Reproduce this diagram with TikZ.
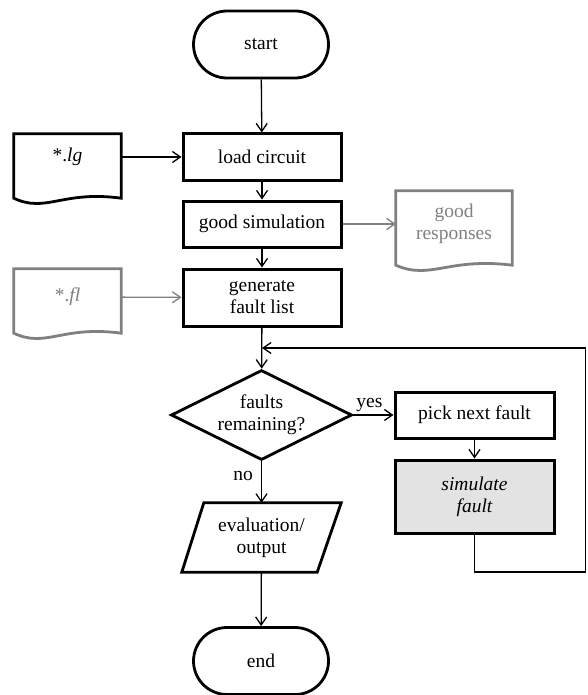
\documentclass[tikz,border=0pt]{standalone}
\usepackage{fontspec}
\setmainfont{Liberation Serif}
\usetikzlibrary{shapes.geometric,shapes.misc,arrows.meta,calc}

\definecolor{docgray}{RGB}{128,128,128}
\definecolor{simfill}{RGB}{227,227,227}

\tikzset{
  base/.style={font=\fontsize{19.5}{22}\selectfont, align=center, inner sep=0pt},
  terminal/.style={base, rounded rectangle, draw, line width=2.8pt,
    minimum width=135pt, minimum height=67pt},
  process/.style={base, rectangle, draw, line width=3pt,
    minimum width=158pt, minimum height=46pt},
  decision/.style={base, diamond, draw, line width=2.8pt, aspect=2,
    minimum width=181pt, minimum height=90pt},
  iotext/.style={base, rectangle, minimum width=159pt, minimum height=69pt},
  ioline/.style={line width=2.8pt, line join=miter},
  doctext/.style={base, minimum width=107pt},
  docline/.style={line width=2.8pt, line join=miter},
  flow/.style={line width=1.3pt, -{Straight Barb[length=8pt,width=11pt,line width=1.3pt]}},
  grayflow/.style={flow, docgray},
  lbl/.style={font=\fontsize{19.5}{22}\selectfont, inner sep=0pt},
}

\newcommand{\docoutline}[4]{% node, extra depth below node, colour, wave depth
  \draw[docline, #3] (#1.north west) -- (#1.north east)
    -- ([yshift=-#2]#1.south east)
    .. controls ($([yshift=-#2]#1.south east)!0.55!([yshift=-#2]#1.south west)+(0,#4)$)
       and ($([yshift=-#2]#1.south east)!0.7!([yshift=-#2]#1.south west)+(0,-1.9*#4)$)
    .. ([yshift=-#2]#1.south west) -- cycle;}

\begin{document}
\begin{tikzpicture}[x=1pt, y=-1pt]
  \useasboundingbox (0,0) rectangle (587,695);

  % main column
  \node[terminal] (start) at (261,44.5) {start};
  \node[process]  (load)  at (262,157)  {load circuit};
  \node[process]  (good)  at (262,224)  {good simulation};
  \node[process, minimum height=57pt] (gen) at (262,297.5) {generate\\fault list};
  \node[decision] (dec)   at (261.5,415) {faults\\remaining?};
  \node[iotext]   (eval)  at (261.5,537.5) {evaluation/\\output};
  \draw[ioline] ([xshift=22pt]eval.north west) -- (eval.north east)
    -- ([xshift=-24pt]eval.south east) -- (eval.south west) -- cycle;
  \node[terminal] (end)   at (261,661)  {end};

  % fault loop column
  \node[process, minimum width=159pt] (pick) at (474.5,415) {pick next fault};
  \node[process, minimum width=159pt, minimum height=73pt, fill=simfill]
        (sim) at (474.5,496.5) {\itshape simulate\\\itshape fault};

  % files
  \node[doctext, minimum height=46pt] (lg) at (67.5,157) {*.\textit{lg}};
  \docoutline{lg}{18pt}{black}{8pt}
  \node[doctext, minimum height=56pt, text=docgray] (fl) at (67.5,297) {*.\textit{fl}};
  \docoutline{fl}{8pt}{docgray}{8pt}
  \node[doctext, minimum width=116pt, minimum height=66pt, text=docgray]
        (resp) at (454,224) {good\\responses};
  \docoutline{resp}{8pt}{docgray}{8pt}

  % loop return path
  \coordinate (loopin)  at (262,348);
  \coordinate (loopcor) at (585.5,348);
  \coordinate (loopbot) at (585.5,572);

  % connectors
  \draw[flow] (start) -- (load);
  \draw[flow] (lg) -- (load);
  \draw[flow] (load) -- (good);
  \draw[grayflow] (good) -- (resp);
  \draw[flow] (good) -- (gen);
  \draw[grayflow] (fl) -- (gen);
  \draw[flow] (gen) -- (dec);
  \draw[flow] (dec) -- node[lbl, above, xshift=-4pt, yshift=3pt] {yes} (pick);
  \draw[flow] (pick) -- (sim);
  \draw[flow] (sim.south) |- (loopbot) -- (loopcor) -- (loopin);
  \draw[flow] (dec) -- node[lbl, left, xshift=-8pt, yshift=6pt] {no} (eval);
  \draw[flow] (eval) -- (end);
\end{tikzpicture}
\end{document}
